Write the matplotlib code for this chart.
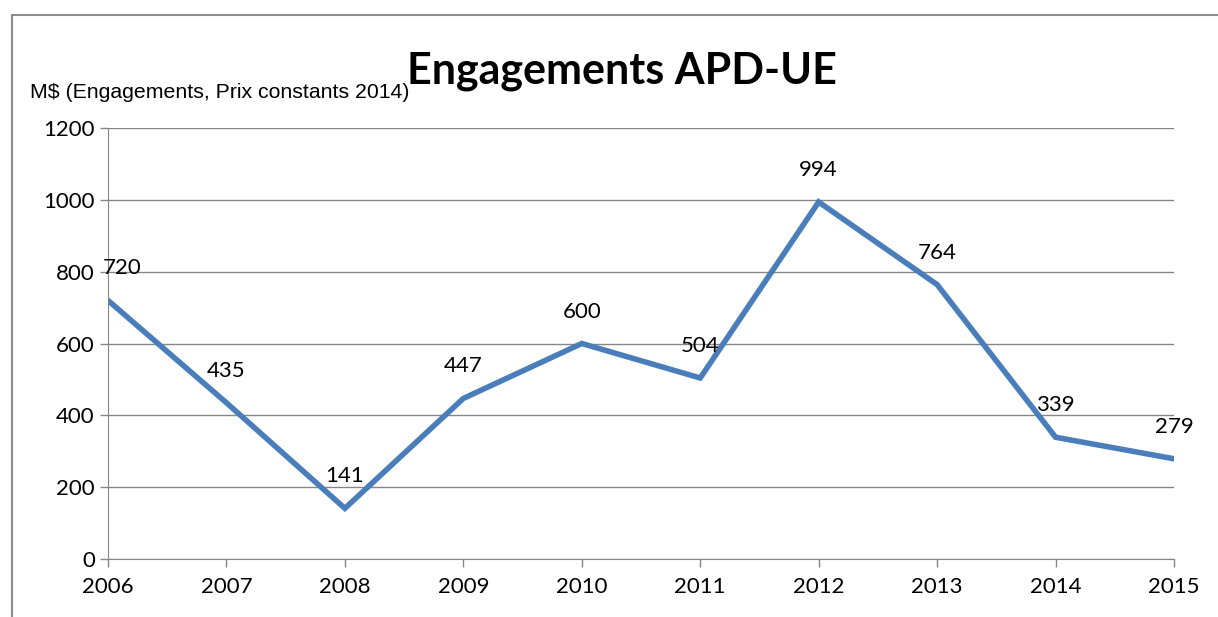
import matplotlib.pyplot as plt
from matplotlib.patches import Rectangle

years = [2006, 2007, 2008, 2009, 2010, 2011, 2012, 2013, 2014, 2015]
values = [720, 435, 141, 447, 600, 504, 994, 764, 339, 279]
y_ticks = [0, 200, 400, 600, 800, 1000, 1200]

fig = plt.figure(figsize=(12.18, 6.17), dpi=100)
ax = fig.add_axes([108 / 1218, 1 - 559 / 617, (1174 - 108) / 1218, (559 - 128) / 617])

# cadre gris autour du graphique (coupé à droite et en bas)
fig.patches.append(Rectangle((12 / 1218, -0.2), 1.2, 1.2 - 15 / 617,
                             transform=fig.transFigure, fill=False,
                             edgecolor='#8c8c8c', linewidth=1.5))

ax.plot(years, values, color='#4a7ebb', linewidth=4, solid_joinstyle='miter')

for x, v in zip(years, values):
    dx = 14 if x == years[0] else 0
    ax.annotate(str(v), (x, v), xytext=(dx, 32), textcoords='offset pixels',
                ha='center', va='center', fontsize=16, family='Lato')

ax.set_xlim(years[0], years[-1])
ax.set_ylim(0, 1200)
ax.set_xticks(years)
ax.set_yticks(y_ticks)
ax.grid(axis='y', color='#868686', linewidth=1)
ax.set_axisbelow(True)
for s in ['top', 'right']:
    ax.spines[s].set_visible(False)
for s in ['left', 'bottom']:
    ax.spines[s].set_color('#868686')
ax.tick_params(axis='both', colors='#868686', length=6, width=1, labelcolor='black',
               labelsize=16)
ax.tick_params(axis='x', pad=7)
for lab in ax.get_xticklabels() + ax.get_yticklabels():
    lab.set_family('Lato')

fig.text(622 / 1218, 1 - 71 / 617, 'Engagements APD-UE', ha='center', va='center',
         fontsize=31, fontweight='bold', family='Lato')
fig.text(30 / 1218, 1 - 93 / 617, 'M$ (Engagements, Prix constants 2014)',
         ha='left', va='center', fontsize=15.3, family='Liberation Sans')

fig.savefig('out.png', dpi=100)
